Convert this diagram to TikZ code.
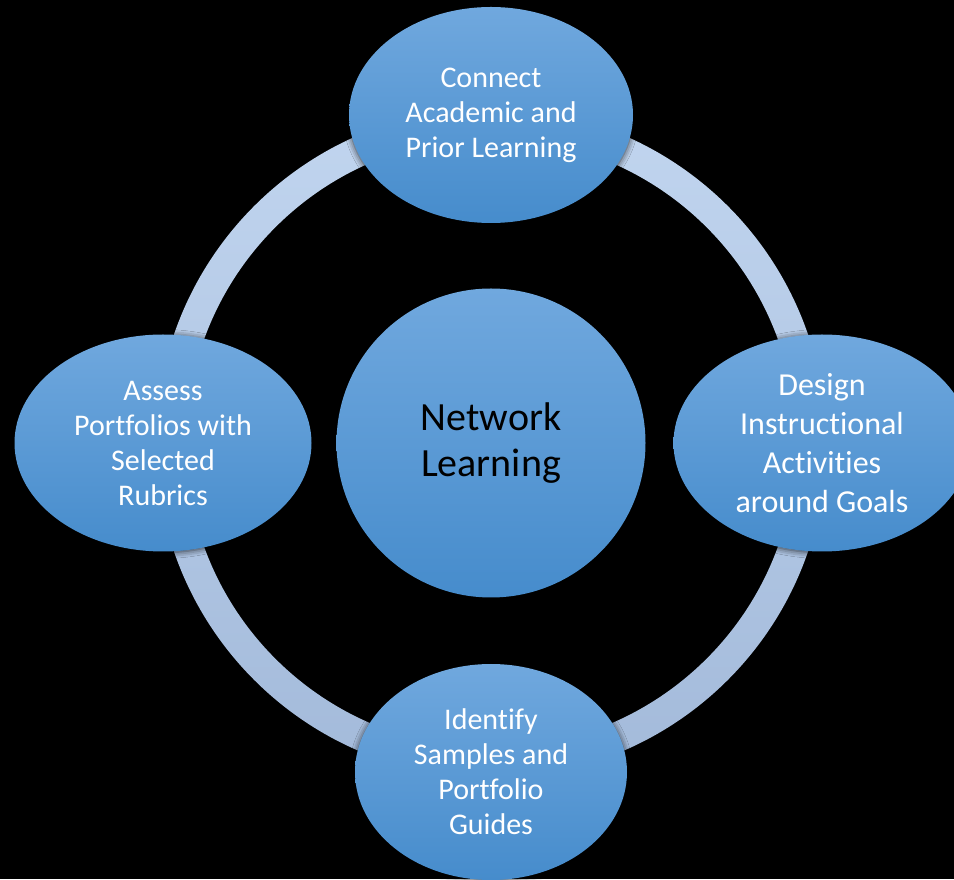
\documentclass[tikz,border=0pt]{standalone}
\usepackage{fontspec}
\setmainfont{Carlito}[Ligatures={NoCommon,NoContextual}]
\usetikzlibrary{shapes.geometric,shadows.blur}
\definecolor{stagetop}{RGB}{112,168,222}
\definecolor{stagebottom}{RGB}{70,140,204}
\definecolor{ringtop}{RGB}{193,213,239}
\definecolor{ringbottom}{RGB}{163,186,218}

\tikzset{
  stage/.style={ellipse, inner sep=0pt, align=center, text=white,
    top color=stagetop, bottom color=stagebottom,
    font=\fontsize{30}{35}\selectfont,
    blur shadow={shadow xshift=0pt, shadow yshift=-1pt,
      shadow blur radius=6pt, shadow opacity=75}},
  hub/.style={circle, inner sep=0pt, align=center, text=black,
    top color=stagetop, bottom color=stagebottom,
    font=\fontsize{40}{46}\selectfont}
}

\begin{document}
\begin{tikzpicture}[x=1pt, y=1pt]
    % Background
    \fill[black] (0,0) rectangle (954,879);
    \useasboundingbox (0,0) rectangle (954,879);
    \clip (0,0) rectangle (954,879);

    % Ring behind the stages
    \coordinate (ctr) at (491,436);
    \shade[top color=ringtop, bottom color=ringbottom, even odd rule]
        (ctr) circle (335) (ctr) circle (305);

    % Hub
    \node[hub, minimum size=309] (hub) at (ctr) {Network\\Learning};

    % Stages round the ring
    \node[stage, minimum width=284, minimum height=216] (connect) at (491,764)
        {Connect\\Academic and\\Prior Learning};
    \node[stage, minimum width=297, minimum height=217,
        font=\fontsize{32}{39}\selectfont] (design) at (822,436)
        {Design\\Instructional\\Activities\\around Goals};
    \node[stage, minimum width=272, minimum height=216] (identify) at (491,107)
        {Identify\\Samples and\\Portfolio\\Guides};
    \node[stage, minimum width=297, minimum height=217] (assess) at (163,436)
        {Assess\\Portfolios with\\Selected\\Rubrics};
\end{tikzpicture}
\end{document}
